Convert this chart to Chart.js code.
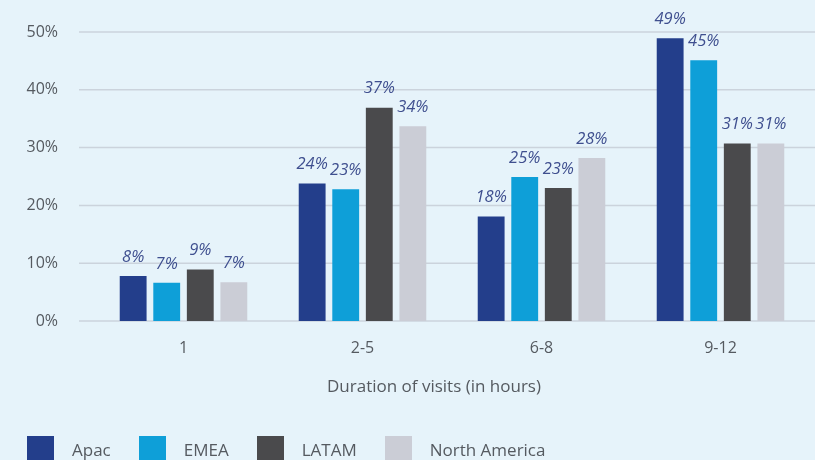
<!DOCTYPE html>
<html>
<head>
<meta charset="utf-8">
<script src="https://cdn.jsdelivr.net/npm/chart.js@4.4.0/dist/chart.umd.min.js"></script>
<style>
  html, body { margin: 0; padding: 0; background: #e6f3fa; }
  #wrap { position: relative; width: 815px; height: 460px; overflow: hidden; }
  #legend { position: absolute; left: 27px; top: 436px; display: flex; font-family: "Open Sans", sans-serif; font-size: 17px; color: #555a60; }
  #legend .item { display: flex; align-items: flex-start; margin-right: 28px; }
  #legend .box { width: 27px; height: 27px; margin-right: 18px; }
  #legend .txt { line-height: 27px; }
</style>
</head>
<body>
<div id="wrap">
  <canvas id="chart" width="815" height="460"></canvas>
  <div id="legend"></div>
</div>
<script>
var categories = ["1", "2-5", "6-8", "9-12"];
var seriesNames = ["Apac", "EMEA", "LATAM", "North America"];
var apac = [7.8, 23.8, 18.1, 48.9];
var emea = [6.6, 22.8, 24.9, 45.1];
var latam = [8.9, 36.9, 23.0, 30.7];
var northAmerica = [6.7, 33.7, 28.2, 30.7];
var yTicks = [0, 10, 20, 30, 40, 50];
var colors = ["#233e8b", "#0e9fd8", "#4a4a4c", "#cbcdd6"];

var seriesValues = [apac, emea, latam, northAmerica];

// grid lines run a bit wider than the bar area
var gridPlugin = {
  id: "wideGrid",
  beforeDatasetsDraw: function(chart) {
    var ctx = chart.ctx;
    var y = chart.scales.y;
    ctx.save();
    ctx.strokeStyle = "#cbd3dc";
    ctx.lineWidth = 1.5;
    y.ticks.forEach(function(t) {
      var py = y.getPixelForValue(t.value);
      ctx.beginPath();
      ctx.moveTo(79, py);
      ctx.lineTo(chart.width, py);
      ctx.stroke();
    });
    ctx.restore();
  }
};

var labelPlugin = {
  id: "valueLabels",
  afterDatasetsDraw: function(chart) {
    var ctx = chart.ctx;
    ctx.save();
    ctx.font = "italic 16.5px 'Open Sans'";
    ctx.fillStyle = "#3f4f8f";
    ctx.textAlign = "center";
    ctx.textBaseline = "middle";
    chart.data.datasets.forEach(function(ds, i) {
      chart.getDatasetMeta(i).data.forEach(function(bar, j) {
        ctx.fillText(Math.round(ds.data[j]) + "%", bar.x, bar.y - 19);
      });
    });
    ctx.restore();
  },
  afterDraw: function(chart) {
    var ctx = chart.ctx;
    ctx.save();
    ctx.font = "17px 'Open Sans'";
    ctx.fillStyle = "#555a60";
    ctx.textAlign = "center";
    ctx.textBaseline = "middle";
    ctx.fillText("Duration of visits (in hours)", 434, 387);
    ctx.restore();
  }
};

var datasets = [];
for (var i = 0; i < seriesNames.length; i++) {
  datasets.push({
    label: seriesNames[i],
    data: seriesValues[i],
    backgroundColor: colors[i],
    categoryPercentage: 0.75,
    barPercentage: 0.8
  });
}

new Chart(document.getElementById("chart").getContext("2d"), {
  type: "bar",
  data: { labels: categories, datasets: datasets },
  options: {
    responsive: false,
    animation: false,
    layout: { padding: { top: 32, right: 5, left: 0, bottom: 0 } },
    plugins: { legend: { display: false }, tooltip: { enabled: false } },
    scales: {
      x: {
        grid: { display: false, drawTicks: false },
        border: { display: false },
        ticks: { padding: 18, color: "#555a60", font: { family: "Open Sans", size: 16 } },
        afterFit: function(scale) { scale.height = 139; scale.paddingLeft = 0; scale.paddingRight = 0; }
      },
      y: {
        min: 0,
        max: 50,
        afterBuildTicks: function(scale) {
          scale.ticks = yTicks.map(function(v) { return { value: v }; });
        },
        grid: { display: false, drawTicks: false },
        border: { display: false },
        ticks: {
          padding: 36,
          color: "#555a60",
          font: { family: "Open Sans", size: 16 },
          callback: function(v) { return v + "%"; }
        },
        afterFit: function(scale) { scale.width = 94; scale.paddingTop = 0; scale.paddingBottom = 0; }
      }
    }
  },
  plugins: [gridPlugin, labelPlugin]
});

var legend = document.getElementById("legend");
seriesNames.forEach(function(name, i) {
  legend.innerHTML += '<div class="item"><div class="box" style="background:' + colors[i] +
    '"></div><div class="txt">' + name + '</div></div>';
});
</script>
</body>
</html>
